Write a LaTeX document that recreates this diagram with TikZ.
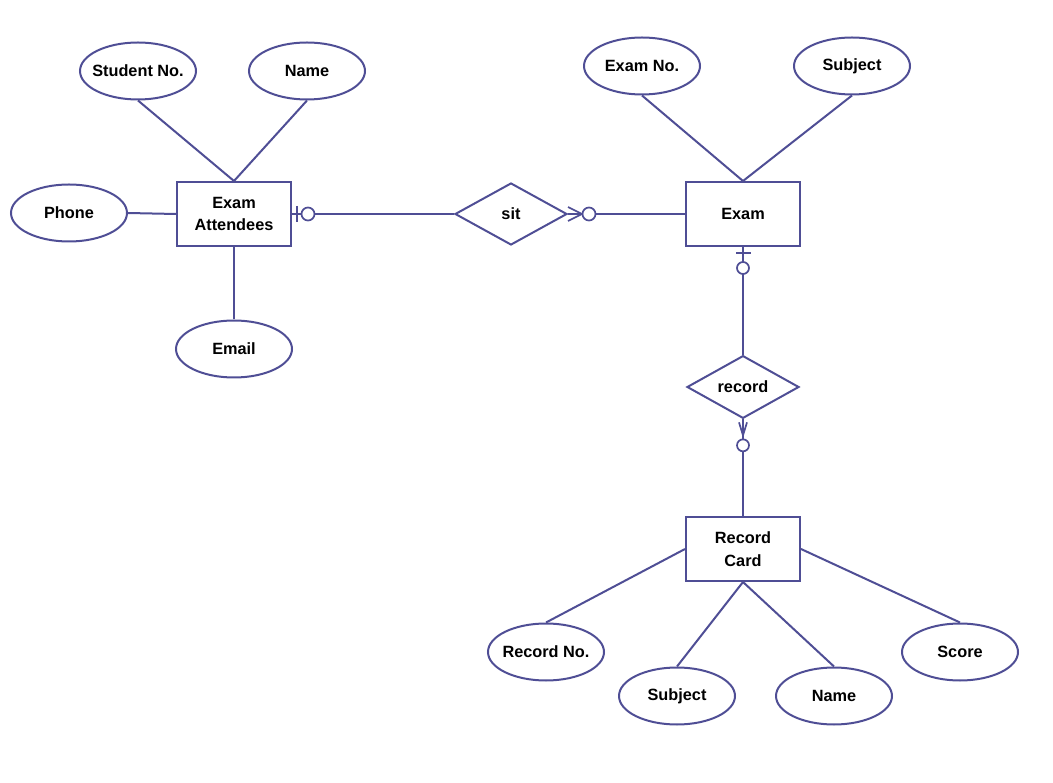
\documentclass[tikz,border=0pt]{standalone}
\usepackage{fontspec}
\setmainfont{Liberation Sans}
\usetikzlibrary{arrows.meta,positioning,calc,shapes.geometric}
\definecolor{erln}{HTML}{4F4E95}

\begin{document}
\begin{tikzpicture}[x=1pt,y=-1pt,font=\bfseries\fontsize{16.3}{22.5}\selectfont,
  ent/.style={draw=erln,line width=2pt,rectangle,minimum width=114pt,minimum height=64pt,align=center,inner sep=0pt},
  attr/.style={draw=erln,line width=2pt,ellipse,minimum width=116pt,minimum height=57pt,inner xsep=-8pt,inner ysep=0pt},
  rl/.style={draw=erln,line width=2pt,diamond,minimum width=112pt,minimum height=62pt,inner sep=0pt},
  ln/.style={erln,line width=2pt},
  mk/.style={erln,line width=1.7pt}]
\useasboundingbox (0,0) rectangle (1053,783);

% entities and relationships
\node[ent] (atd) at (234,214) {Exam\\Attendees};
\node[ent] (ex) at (743,214) {Exam};
\node[ent] (rc) at (743,549) {Record\\Card};
\node[rl] (sit) at (511,214) {sit};
\node[rl] (rec) at (743,387) {record};

% attributes
\node[attr] (stno) at (138,71) {Student No.};
\node[attr] (stname) at (307,71) {Name};
\node[attr] (phone) at (69,213) {Phone};
\node[attr] (email) at (234,349) {Email};
\node[attr] (exno) at (642,66) {Exam No.};
\node[attr] (exsub) at (852,66) {Subject};
\node[attr] (rcno) at (546,652) {Record No.};
\node[attr] (rcsub) at (677,696) {Subject};
\node[attr] (rcname) at (834,696) {Name};
\node[attr] (score) at (960,652) {Score};

\draw[ln] (stno.south) -- (atd.north);
\draw[ln] (stname.south) -- (atd.north);
\draw[ln] (phone.east) -- (atd.west);
\draw[ln] (email.north) -- (atd.south);
\draw[ln] (exno.south) -- (ex.north);
\draw[ln] (exsub.south) -- (ex.north);
\draw[ln] (rcno.north) -- (rc.west);
\draw[ln] (rcsub.north) -- (rc.south);
\draw[ln] (rcname.north) -- (rc.south);
\draw[ln] (score.north) -- (rc.east);

% relationship lines
\draw[ln] (atd.east) -- (sit.west);
\draw[ln] (sit.east) -- (ex.west);
\draw[ln] (ex.south) -- (rec.north);
\draw[ln] (rec.south) -- (rc.north);

% cardinality marks
\draw[mk] ($(atd.east)+(5,-8)$) -- ++(0,16);
\draw[mk,fill=white] ($(atd.east)+(16,0)$) circle[radius=6.5pt];
\draw[mk] ($(sit.east)+(0,-7)$) -- ($(sit.east)+(14,0)$) -- ($(sit.east)+(0,7)$);
\draw[mk,fill=white] ($(sit.east)+(21,0)$) circle[radius=6.5pt];
\draw[mk] ($(ex.south)+(-7,6)$) -- ++(15,0);
\draw[mk,fill=white] ($(ex.south)+(0,21)$) circle[radius=6pt];
\draw[mk] ($(rec.south)+(-4,3)$) -- ($(rec.south)+(0,16)$) -- ($(rec.south)+(4,3)$);
\draw[mk,fill=white] ($(rec.south)+(0,26)$) circle[radius=6pt];
\end{tikzpicture}
\end{document}
